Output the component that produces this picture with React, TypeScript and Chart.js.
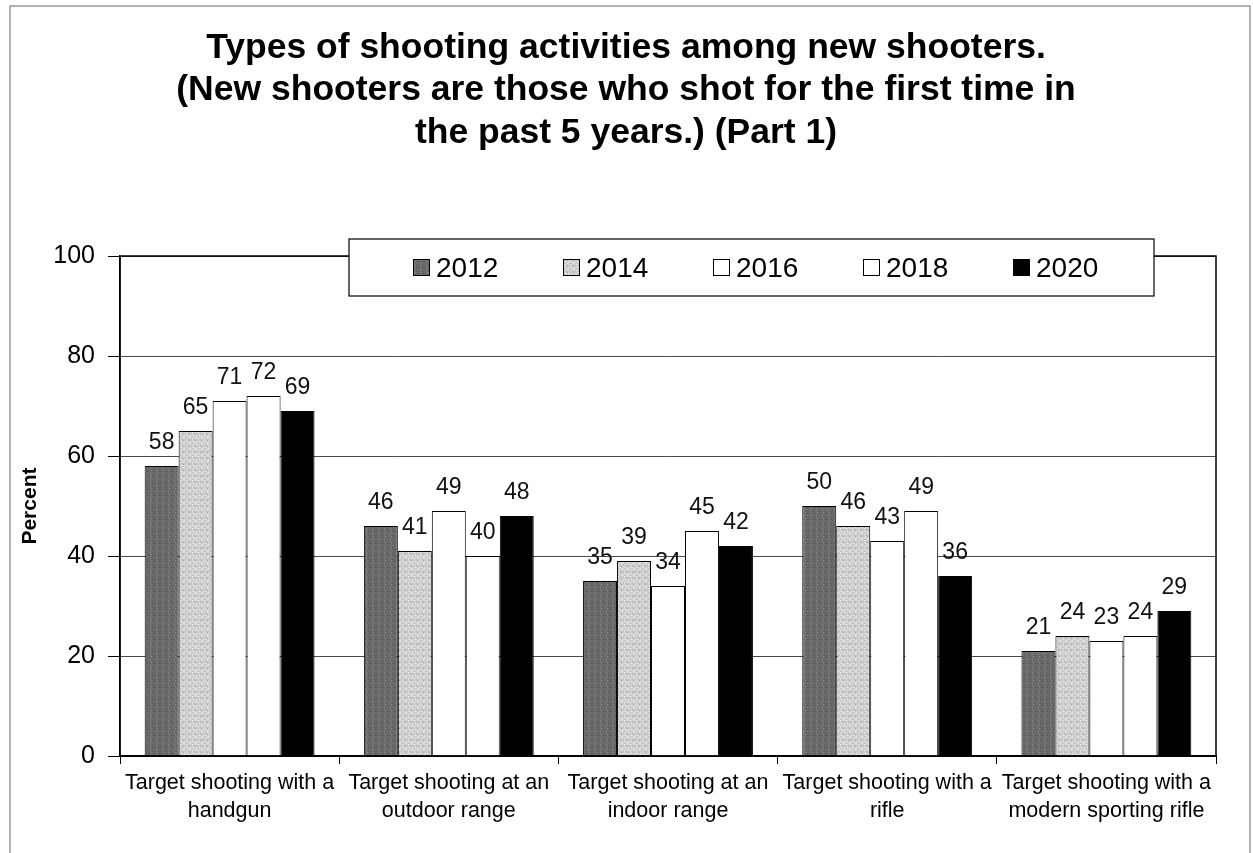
import React, { useEffect, useRef } from "react";
import { Chart, registerables } from "chart.js";

Chart.register(...registerables);

const titleLines = [
  "Types of shooting activities among new shooters.",
  "(New shooters are those who shot for the first time in",
  "the past 5 years.) (Part 1)",
];
const categories = [
  ["Target shooting with a", "handgun"],
  ["Target shooting at an", "outdoor range"],
  ["Target shooting at an", "indoor range"],
  ["Target shooting with a", "rifle"],
  ["Target shooting with a", "modern sporting rifle"],
];
const years = ["2012", "2014", "2016", "2018", "2020"];
const values2012 = [58, 46, 35, 50, 21];
const values2014 = [65, 41, 39, 46, 24];
const values2016 = [71, 49, 34, 43, 23];
const values2018 = [72, 40, 45, 49, 24];
const values2020 = [69, 48, 42, 36, 29];
const yMin = 0;
const yMax = 100;
const yStep = 20;
const yAxisTitle = "Percent";

const FONT = "'Liberation Sans', Arial, sans-serif";

function makePattern(base: string, dots: [number, number, string][], size: number) {
  const c = document.createElement("canvas");
  c.width = size;
  c.height = size;
  const g = c.getContext("2d")!;
  g.fillStyle = base;
  g.fillRect(0, 0, size, size);
  for (const [x, y, col] of dots) {
    g.fillStyle = col;
    g.fillRect(x, y, 1, 1);
  }
  return g.createPattern(c, "repeat")!;
}

export default function App() {
  const ref = useRef<HTMLCanvasElement>(null);

  useEffect(() => {
    document.body.style.margin = "0";
    const canvas = ref.current!;
    const p2012 = makePattern(
      "#6a6a6a",
      [[0, 0, "#8c8c8c"], [2, 1, "#535353"], [1, 2, "#8e8e8e"], [3, 3, "#515151"], [4, 0, "#5c5c5c"], [0, 4, "#838383"], [3, 5, "#777777"], [5, 3, "#585858"]],
      6
    );
    const p2014 = makePattern(
      "#cfcfcf",
      [[0, 0, "#f2f2f2"], [2, 1, "#aeaeae"], [1, 3, "#ededed"], [3, 2, "#a6a6a6"], [4, 4, "#f5f5f5"], [5, 1, "#bbbbbb"], [0, 5, "#b6b6b6"], [3, 5, "#eeeeee"]],
      6
    );
    const fills: (string | CanvasPattern)[] = [p2012, p2014, "#ffffff", "#ffffff", "#000000"];
    const series = [values2012, values2014, values2016, values2018, values2020];

    const bgPlugin = {
      id: "bg",
      beforeDraw(chart: any) {
        const ctx = chart.ctx;
        ctx.save();
        ctx.fillStyle = "#ffffff";
        ctx.fillRect(0, 0, chart.width, chart.height);
        ctx.strokeStyle = "#9a9a9a";
        ctx.lineWidth = 1.5;
        ctx.beginPath();
        ctx.moveTo(10, chart.height);
        ctx.lineTo(10, 6);
        ctx.lineTo(1250, 6);
        ctx.lineTo(1250, chart.height);
        ctx.stroke();
        // title
        ctx.fillStyle = "#000";
        ctx.font = `bold 35.5px ${FONT}`;
        ctx.textAlign = "center";
        ctx.textBaseline = "middle";
        titleLines.forEach((line, i) => {
          ctx.fillText(line, 626, 48 + i * 42.5);
        });
        ctx.restore();
      },
    };

    const overlayPlugin = {
      id: "overlay",
      afterDatasetsDraw(chart: any) {
        const ctx = chart.ctx;
        const a = chart.chartArea;
        ctx.save();
        // plot border
        ctx.strokeStyle = "#000";
        ctx.lineWidth = 1.5;
        ctx.strokeRect(a.left, a.top, a.right - a.left, a.bottom - a.top);
        // data labels
        ctx.fillStyle = "#111";
        ctx.font = `23px ${FONT}`;
        ctx.textAlign = "center";
        ctx.textBaseline = "alphabetic";
        chart.data.datasets.forEach((ds: any, i: number) => {
          const meta = chart.getDatasetMeta(i);
          meta.data.forEach((bar: any, j: number) => {
            ctx.fillText(String(ds.data[j]), bar.x, bar.y - 17);
          });
        });
        // legend
        const bx = a.left + 229;
        const by = a.top - 17;
        ctx.fillStyle = "#fff";
        ctx.fillRect(bx, by, 805, 57);
        ctx.lineWidth = 1.2;
        ctx.strokeStyle = "#000";
        ctx.strokeRect(bx, by, 805, 57);
        ctx.font = `28px ${FONT}`;
        ctx.textAlign = "left";
        chart.data.datasets.forEach((ds: any, i: number) => {
          const mx = a.left + 293 + i * 150;
          const my = a.top + 3;
          ctx.fillStyle = ds.backgroundColor;
          ctx.fillRect(mx, my, 17, 17);
          ctx.lineWidth = 1;
          ctx.strokeStyle = "#000";
          ctx.strokeRect(mx + 0.5, my + 0.5, 16, 16);
          ctx.fillStyle = "#000";
          ctx.fillText(ds.label, mx + 23, a.top + 21);
        });
        ctx.restore();
      },
    };

    const chart = new Chart(canvas, {
      type: "bar",
      data: {
        labels: categories,
        datasets: years.map((y, i) => ({
          label: y,
          data: series[i],
          backgroundColor: fills[i] as any,
          borderColor: "#000",
          borderWidth: 1,
          borderSkipped: "bottom",
        })),
      },
      options: {
        responsive: false,
        animation: false,
        layout: { padding: { left: 8, right: 37, top: 256, bottom: 23 } },
        datasets: { bar: { categoryPercentage: 0.775, barPercentage: 1 } },
        plugins: {
          legend: { display: false },
          tooltip: { enabled: false },
          title: { display: false },
        },
        scales: {
          x: {
            grid: {
              offset: true,
              drawOnChartArea: false,
              drawTicks: true,
              tickLength: 8,
              tickColor: "#000",
            },
            border: { color: "#000", width: 1.5 },
            ticks: {
              color: "#000",
              font: { family: FONT, size: 21.5, lineHeight: 1.3 },
              maxRotation: 0,
              autoSkip: false,
              padding: 5,
            },
          },
          y: {
            min: yMin,
            max: yMax,
            afterFit(scale: any) {
              scale.width = 112;
            },
            grid: {
              color: "#4a4a4a",
              lineWidth: 1,
              tickLength: 12,
              tickColor: "#000",
            },
            border: { color: "#000", width: 1.5 },
            ticks: {
              stepSize: yStep,
              color: "#000",
              font: { family: FONT, size: 25 },
              padding: 13,
            },
            title: {
              display: true,
              text: yAxisTitle,
              color: "#000",
              font: { family: FONT, size: 21, weight: "bold", lineHeight: 1.2 },
              padding: { top: 10, bottom: 0 },
            },
          },
        },
      },
      plugins: [bgPlugin, overlayPlugin],
    });
    return () => chart.destroy();
  }, []);

  return (
    <div style={{ width: 1253, height: 853, position: "relative" }}>
      <canvas ref={ref} width={1253} height={853} style={{ display: "block" }} />
    </div>
  );
}
